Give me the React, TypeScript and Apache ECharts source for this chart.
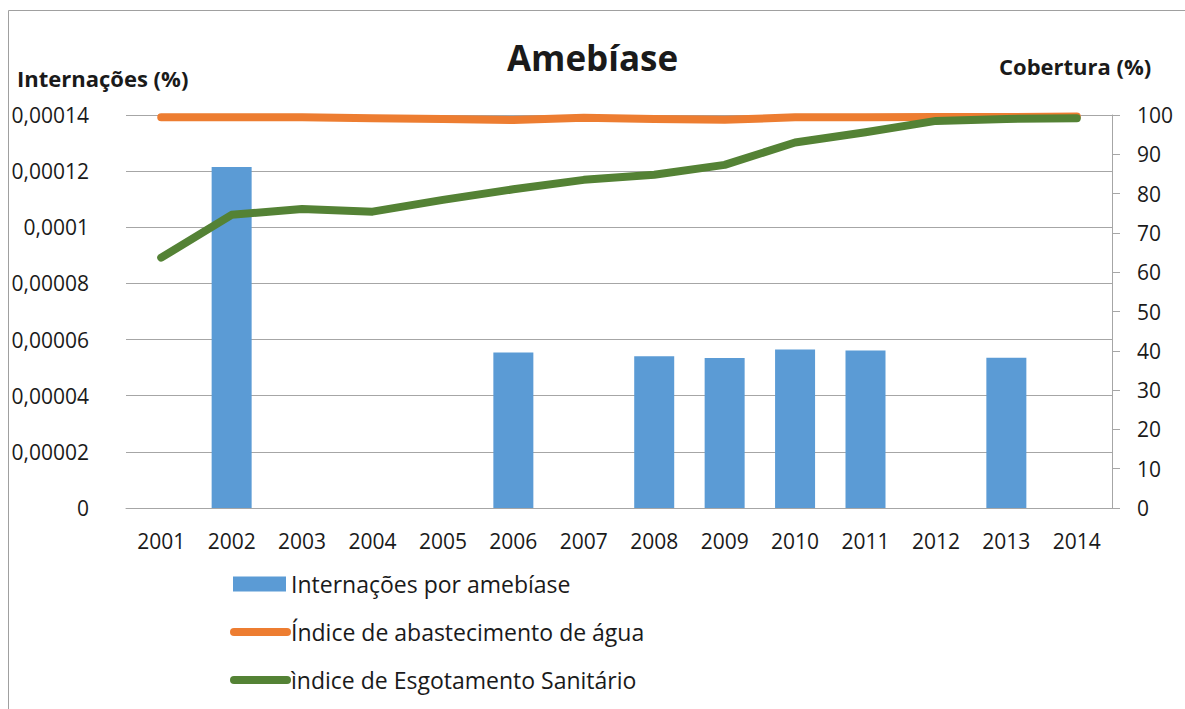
import React, { useEffect, useRef } from "react";
import * as echarts from "echarts";

const years = ["2001", "2002", "2003", "2004", "2005", "2006", "2007", "2008", "2009", "2010", "2011", "2012", "2013", "2014"];
const internacoes = [0, 0.0001215, 0, 0, 0, 0.0000554, 0, 0.0000541, 0.0000534, 0.0000565, 0.0000561, 0, 0.0000535, 0];
const abastecimento = [99.4, 99.4, 99.4, 99.2, 99.0, 98.7, 99.3, 99.0, 98.8, 99.4, 99.4, 99.5, 99.5, 99.6];
const esgotamento = [63.7, 74.6, 76.1, 75.4, 78.4, 81.1, 83.5, 84.8, 87.3, 93.0, 95.6, 98.5, 99.0, 99.2];

const seriesNames = ["Internações por amebíase", "Índice de abastecimento de água", "ìndice de Esgotamento Sanitário"];
const seriesColors = ["#5B9BD5", "#ED7D31", "#548235"];

const FONT = "'Open Sans', sans-serif";
const TXT = "#1a1a1a";
const GRID = "#a6a6a6";

export default function App() {
  const ref = useRef<HTMLDivElement>(null);
  useEffect(() => {
    if (!ref.current) return;
    const chart = echarts.init(ref.current, null, { renderer: "svg" });
    const fmt = (v: number) => (v === 0 ? "0" : parseFloat(v.toFixed(6)).toString().replace(".", ","));
    const legendY = [584, 632, 680];
    const legendGraphics: any[] = [
      {
        type: "rect",
        shape: { x: 233, y: legendY[0] - 7.5, width: 53, height: 15 },
        style: { fill: seriesColors[0] },
      },
      {
        type: "line",
        shape: { x1: 234, y1: legendY[1], x2: 287, y2: legendY[1] },
        style: { stroke: seriesColors[1], lineWidth: 8, lineCap: "round" },
      },
      {
        type: "line",
        shape: { x1: 234, y1: legendY[2], x2: 287, y2: legendY[2] },
        style: { stroke: seriesColors[2], lineWidth: 8, lineCap: "round" },
      },
      ...seriesNames.map((n, i) => ({
        type: "text",
        x: 291,
        y: legendY[i],
        style: { text: n, font: `23px ${FONT}`, fill: TXT, textVerticalAlign: "middle", verticalAlign: "middle" },
      })),
    ];
    chart.setOption({
      animation: false,
      backgroundColor: "#ffffff",
      textStyle: { fontFamily: FONT },
      title: {
        text: "Amebíase",
        left: "center",
        top: 35,
        textStyle: { fontFamily: FONT, fontSize: 35, fontWeight: "bold", color: TXT },
      },
      graphic: [
        {
          type: "rect",
          shape: { x: 8.5, y: 10.5, width: 1300, height: 900 },
          style: { fill: "none", stroke: "#a0a0a0", lineWidth: 1 },
          silent: true,
        },
        {
          type: "text",
          left: 17,
          top: 67,
          style: { text: "Internações (%)", font: `bold 22px ${FONT}`, fill: TXT },
        },
        {
          type: "text",
          left: 999,
          top: 55,
          style: { text: "Cobertura (%)", font: `bold 22px ${FONT}`, fill: TXT },
        },
        ...legendGraphics,
      ],
      grid: { left: 126, right: 73, top: 115, bottom: 201, containLabel: false },
      xAxis: {
        type: "category",
        data: years,
        axisLine: { show: true, lineStyle: { color: GRID, width: 1 } },
        axisTick: { show: false },
        axisLabel: { fontFamily: FONT, fontSize: 21, color: TXT, margin: 22, interval: 0 },
      },
      yAxis: [
        {
          type: "value",
          min: 0,
          max: 0.00014,
          interval: 0.00002,
          axisLine: { show: false },
          axisTick: { show: false },
          splitLine: { show: true, lineStyle: { color: GRID, width: 1 } },
          axisLabel: { fontFamily: FONT, fontSize: 21, color: TXT, margin: 37, formatter: fmt },
        },
        {
          type: "value",
          min: 0,
          max: 100,
          interval: 10,
          position: "right",
          axisLine: { show: true, lineStyle: { color: GRID, width: 1 } },
          axisTick: { show: true, length: 8, lineStyle: { color: GRID } },
          splitLine: { show: false },
          axisLabel: { fontFamily: FONT, fontSize: 21, color: TXT, margin: 25 },
        },
      ],
      series: [
        {
          name: seriesNames[0],
          type: "bar",
          data: internacoes,
          barWidth: 40,
          itemStyle: { color: seriesColors[0] },
          yAxisIndex: 0,
        },
        {
          name: seriesNames[1],
          type: "line",
          data: abastecimento,
          yAxisIndex: 1,
          symbol: "none",
          lineStyle: { color: seriesColors[1], width: 8, cap: "round", join: "round" },
          itemStyle: { color: seriesColors[1] },
        },
        {
          name: seriesNames[2],
          type: "line",
          data: esgotamento,
          yAxisIndex: 1,
          symbol: "none",
          lineStyle: { color: seriesColors[2], width: 8, cap: "round", join: "round" },
          itemStyle: { color: seriesColors[2] },
        },
      ],
    });
    return () => chart.dispose();
  }, []);
  return <div ref={ref} style={{ position: "fixed", left: 0, top: 0, width: 1185, height: 709 }} />;
}
